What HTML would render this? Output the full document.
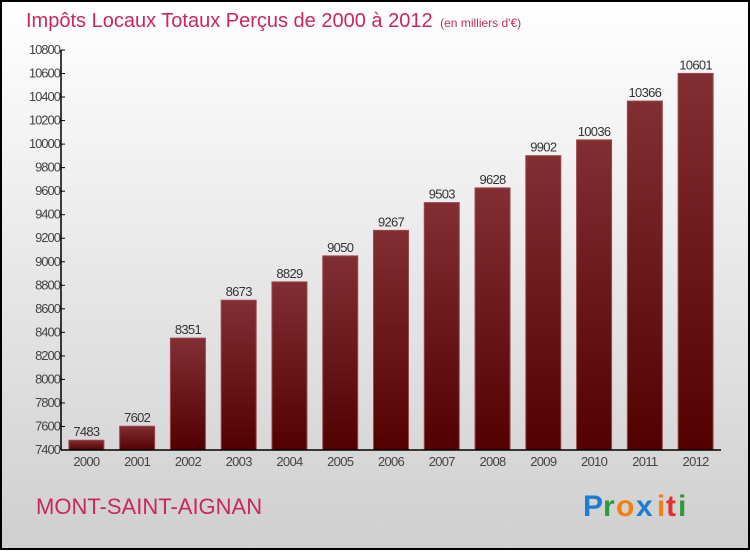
<!DOCTYPE html>
<html><head><meta charset="utf-8"><style>
body{margin:0;width:750px;height:550px;overflow:hidden;font-family:"Liberation Sans",sans-serif}
</style></head><body>
<svg width="750" height="550" xmlns="http://www.w3.org/2000/svg">
<defs>
<linearGradient id="bg" x1="0" y1="0" x2="0" y2="1"><stop offset="0" stop-color="#ffffff"/><stop offset="1" stop-color="#cfcfcf"/></linearGradient>
<linearGradient id="bar" x1="0" y1="0" x2="0" y2="1"><stop offset="0" stop-color="#812f33"/><stop offset="1" stop-color="#520000"/></linearGradient>
</defs>
<rect x="1" y="1" width="748" height="548" fill="url(#bg)" stroke="#000" stroke-width="2"/>
<text x="26" y="27" font-size="20" fill="#c8285a">Impôts Locaux Totaux Perçus de 2000 à 2012 <tspan font-size="12" dx="2">(en milliers d'€)</tspan></text>
<g id="yaxis"></g>
<g id="bars"></g>
<g id="xaxis"></g>
<text x="36" y="514" font-size="22" fill="#c8285a">MONT-SAINT-AIGNAN</text>
<g font-size="30" font-weight="bold">
<text x="583" y="516" fill="#1a7fd4">P</text><text x="603" y="516" fill="#2f9a3a">r</text><text x="616" y="516" fill="#f08010">o</text><text x="636" y="516" fill="#1a7fd4">x</text><text x="657" y="516" fill="#f08010">i</text><text x="666" y="516" fill="#e03030">t</text><text x="678" y="516" fill="#2f9a3a">i</text>
</g>
</svg>
<script>
const years=["2000","2001","2002","2003","2004","2005","2006","2007","2008","2009","2010","2011","2012"];
const values=[7483,7602,8351,8673,8829,9050,9267,9503,9628,9902,10036,10366,10601];
const yTicks=[7400,7600,7800,8000,8200,8400,8600,8800,9000,9200,9400,9600,9800,10000,10200,10400,10600,10800];
const NS="http://www.w3.org/2000/svg";
const x0=61,x1=721,yTop=50,yBot=450,vMin=7400,vMax=10800;
const bw=(x1-x0)/years.length;
function y(v){return yBot-(v-vMin)/(vMax-vMin)*(yBot-yTop);}
function xc(i){return x0+bw*(i+0.5);}
function mk(tag,attrs,parent,txt){const e=document.createElementNS(NS,tag);for(const k in attrs)e.setAttribute(k,attrs[k]);if(txt!==undefined)e.textContent=txt;parent.appendChild(e);return e;}
const ya=document.getElementById('yaxis'),ba=document.getElementById('bars'),xa=document.getElementById('xaxis');
yTicks.forEach(t=>{
  const l=mk('line',{x1:x0,x2:x0+4,y1:y(t),y2:y(t),stroke:'#000'},ya);
  
  
  const tx=mk('text',{x:x0-1,y:y(t)+4,'text-anchor':'end','font-size':'13',fill:'#444','letter-spacing':'-1'},ya,t);
  
  
});
values.forEach((v,i)=>{
  const r=mk('rect',{x:xc(i)-17.5,y:y(v),width:35,height:yBot-y(v),fill:'url(#bar)',stroke:'#9a4a4e','stroke-width':'1'},ba);
  
  
  const t=mk('text',{x:xc(i),y:y(v)-4,'text-anchor':'middle','font-size':'13',fill:'#333','letter-spacing':'-0.7'},ba,v);
  
  
  const xl=mk('text',{x:xc(i),y:466,'text-anchor':'middle','font-size':'13',fill:'#444','letter-spacing':'-0.7'},xa,years[i]);
  
  
});
const yl=mk('line',{x1:x0,x2:x0,y1:yTop,y2:yBot,stroke:'#000','stroke-width':'1.5'},ya);


const xl=mk('line',{x1:x0,x2:x1,y1:yBot,y2:yBot,stroke:'#000','stroke-width':'1.5'},xa);


</script>
</body></html>
